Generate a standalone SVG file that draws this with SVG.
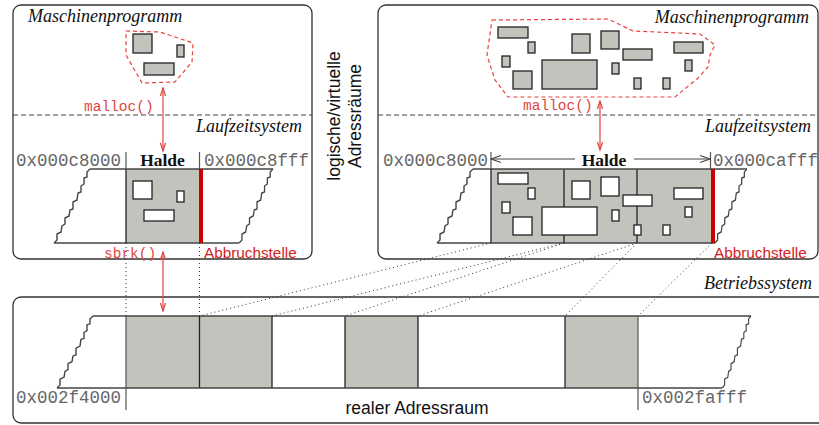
<svg xmlns="http://www.w3.org/2000/svg" xmlns:xlink="http://www.w3.org/1999/xlink" width="819" height="425" viewBox="0 0 819 425">
<style>
.box{fill:none;stroke:#333;stroke-width:1.3}
.sep{stroke:#444;stroke-width:1.2;stroke-dasharray:5 3}
.it{font-family:"Liberation Serif",serif;font-style:italic;font-size:18px;fill:#111}
.bold{font-family:"Liberation Serif",serif;font-weight:bold;font-size:17.5px;fill:#111}
.addr{font-family:"Liberation Mono",monospace;font-size:17.5px;fill:#666}
.code{font-family:"Liberation Mono",monospace;font-size:14.5px;fill:#e0453f}
.abb{font-family:"Liberation Sans",sans-serif;font-size:15.3px;fill:#d42020}
.sans{font-family:"Liberation Sans",sans-serif;font-size:17.5px;fill:#111}
.prog{fill:none;stroke:#e8403c;stroke-width:1.2;stroke-dasharray:4 3}
.blk{fill:#c0c4bc;stroke:#222;stroke-width:1.3}
.hole{fill:#fff;stroke:#222;stroke-width:1.3}
.gray{fill:#c0c4bc;stroke:none}
.div{stroke:#222;stroke-width:1.3}
.edge{fill:none;stroke:#444;stroke-width:1.4}
.tick{stroke:#555;stroke-width:1.2}
.dot{stroke:#333;stroke-width:1;stroke-dasharray:1 3;fill:none}
.red{stroke:#e0453f;stroke-width:1.2}
.bar{fill:#cc0000}
.harr{stroke:#444;stroke-width:1.2}
</style>
<defs>
<marker id="ra" viewBox="-10 -4 11 8" refX="0" refY="0" markerWidth="11" markerHeight="8" markerUnits="userSpaceOnUse" orient="auto-start-reverse">
<path d="M-8,-2.6 L0,0 L-8,2.6" fill="none" stroke="#e0453f" stroke-width="1.2"/>
</marker>
<marker id="ga" viewBox="-12 -5 13 10" refX="0" refY="0" markerWidth="13" markerHeight="10" markerUnits="userSpaceOnUse" orient="auto-start-reverse">
<path d="M-10,-3.5 L0,0 L-10,3.5" fill="none" stroke="#444" stroke-width="1.2"/>
</marker>
<path id="jag" class="edge" d="M0,0 L-3,3 L-3,8 L-6,9 L-6,15 L-9,17 L-9,23 L-12,24 L-13,31 L-17,33 L-17,40 L-20,41 L-21,47 L-25,49 L-25,55 L-28,57 L-29,63 L-33,65 L-33,71 L-36,74"/>
</defs>
<rect width="819" height="425" fill="#fff"/>

<g id="left-space">
<rect class="box" x="13" y="5" width="299" height="254" rx="8"/>
<line class="sep" x1="13" y1="115" x2="312" y2="115"/>
<text class="it" x="28" y="22">Maschinenprogramm</text>
<text class="it" x="302" y="132" text-anchor="end">Laufzeitsystem</text>
<polygon class="prog" points="126,31 160,32 193,43 192,62 175,82 142,83 126,55"/>
<rect class="blk" x="133" y="34" width="19" height="19"/>
<rect class="blk" x="177" y="45" width="7" height="12"/>
<rect class="blk" x="144" y="63" width="30" height="12"/>
<text class="addr" x="16" y="166">0x000c8000</text>
<text class="bold" x="162.5" y="166" text-anchor="middle">Halde</text>
<text class="addr" x="204" y="166">0x000c8fff</text>
<line class="tick" x1="126" y1="152" x2="126" y2="169"/>
<line class="tick" x1="199.5" y1="152" x2="199.5" y2="169"/>
<rect class="gray" x="126" y="169" width="74" height="74"/>
<line class="div" x1="126" y1="169" x2="126" y2="243"/>
<rect class="hole" x="133" y="181" width="19" height="18"/>
<rect class="hole" x="177" y="191" width="7" height="11"/>
<rect class="hole" x="144" y="210" width="30" height="11"/>
<line class="edge" x1="90" y1="169" x2="273" y2="169"/>
<line class="edge" x1="54" y1="243" x2="239" y2="243"/>
<use xlink:href="#jag" transform="translate(90,169)"/>
<use xlink:href="#jag" transform="translate(273,169) scale(0.94,1)"/>
<rect class="bar" x="199" y="169" width="4" height="74"/>
<text class="code" x="104" y="258">sbrk()</text>
<text class="abb" x="204" y="258">Abbruchstelle</text>
<text class="code" x="84" y="111">malloc()</text>
</g>

<g id="label-virtual">
<text class="sans" transform="translate(340,116) rotate(-90)" text-anchor="middle">logische/virtuelle</text>
<text class="sans" transform="translate(361,116) rotate(-90)" text-anchor="middle">Adressräume</text>
</g>

<g id="right-space">
<rect class="box" x="378" y="5" width="440" height="254" rx="8"/>
<line class="sep" x1="378" y1="115" x2="818" y2="115"/>
<text class="it" x="809" y="23" text-anchor="end">Maschinenprogramm</text>
<text class="it" x="811" y="132" text-anchor="end">Laufzeitsystem</text>
<polygon class="prog" points="492,20 608,19 633,31 700,34 715,45 710,55 708,67 698,78 675,97 508,97 495,80 487,55"/>
<rect class="blk" x="498" y="27" width="30" height="11"/>
<rect class="blk" x="528" y="42" width="7" height="11"/>
<rect class="blk" x="502" y="56" width="8" height="11"/>
<rect class="blk" x="513" y="71" width="19" height="18"/>
<rect class="blk" x="542" y="60" width="55" height="29"/>
<rect class="blk" x="572" y="34" width="18" height="19"/>
<rect class="blk" x="601" y="31" width="18" height="18"/>
<rect class="blk" x="623" y="49" width="29" height="11"/>
<rect class="blk" x="612" y="63" width="7" height="11"/>
<rect class="blk" x="634" y="78" width="7" height="11"/>
<rect class="blk" x="674" y="42" width="29" height="11"/>
<rect class="blk" x="685" y="60" width="7" height="11"/>
<rect class="blk" x="663" y="78" width="7" height="11"/>
<text class="code" x="523" y="110">malloc()</text>
<text class="addr" x="383" y="166">0x000c8000</text>
<text class="bold" x="604" y="166" text-anchor="middle">Halde</text>
<text class="addr" x="713" y="166">0x000cafff</text>
<line class="tick" x1="491" y1="152" x2="491" y2="169"/>
<line class="tick" x1="710.5" y1="152" x2="710.5" y2="169"/>
<rect class="gray" x="491" y="169" width="221" height="74"/>
<line class="div" x1="491" y1="169" x2="491" y2="243"/>
<line class="div" x1="564" y1="169" x2="564" y2="243"/>
<line class="div" x1="637" y1="169" x2="637" y2="243"/>
<rect class="hole" x="498" y="173" width="30" height="11"/>
<rect class="hole" x="528" y="188" width="7" height="11"/>
<rect class="hole" x="502" y="202" width="8" height="11"/>
<rect class="hole" x="513" y="217" width="19" height="18"/>
<rect class="hole" x="542" y="207" width="55" height="28"/>
<rect class="hole" x="572" y="181" width="18" height="18"/>
<rect class="hole" x="601" y="177" width="18" height="19"/>
<rect class="hole" x="623" y="195" width="29" height="11"/>
<rect class="hole" x="612" y="210" width="7" height="11"/>
<rect class="hole" x="634" y="225" width="7" height="10"/>
<rect class="hole" x="674" y="188" width="29" height="11"/>
<rect class="hole" x="685" y="207" width="7" height="10"/>
<rect class="hole" x="663" y="225" width="7" height="10"/>
<line class="edge" x1="473" y1="169" x2="747" y2="169"/>
<line class="edge" x1="437" y1="243" x2="715" y2="243"/>
<use xlink:href="#jag" transform="translate(473,169)"/>
<use xlink:href="#jag" transform="translate(747,169) scale(0.89,1)"/>
<rect class="bar" x="711" y="169" width="4" height="74"/>
<text class="abb" x="714" y="258">Abbruchstelle</text>
</g>

<g id="physical">
<rect class="box" x="13" y="297" width="830" height="126" rx="8"/>
<text class="it" x="812" y="289" text-anchor="end">Betriebssystem</text>
<rect class="gray" x="126" y="316" width="146" height="72"/>
<rect class="gray" x="345" y="316" width="73" height="72"/>
<rect class="gray" x="565" y="316" width="73" height="72"/>
<line class="div" x1="199.5" y1="316" x2="199.5" y2="388"/>
<line class="div" x1="272" y1="316" x2="272" y2="388"/>
<line class="div" x1="345" y1="316" x2="345" y2="388"/>
<line class="div" x1="418" y1="316" x2="418" y2="388"/>
<line class="div" x1="565" y1="316" x2="565" y2="388"/>
<line class="edge" x1="93" y1="316" x2="751" y2="316"/>
<line class="edge" x1="57" y1="388" x2="722" y2="388"/>
<use xlink:href="#jag" transform="translate(93,316) scale(1,0.973)"/>
<use xlink:href="#jag" transform="translate(751,316) scale(0.8,0.973)"/>
<line class="tick" x1="126" y1="316" x2="126" y2="410"/>
<line class="tick" x1="638" y1="316" x2="638" y2="410"/>
<text class="addr" x="16" y="403">0x002f4000</text>
<text class="addr" x="642" y="403">0x002fafff</text>
<text class="sans" x="417" y="414" text-anchor="middle">realer Adressraum</text>
</g>

<g id="connectors">
<line class="red" x1="163" y1="88" x2="163" y2="151" marker-start="url(#ra)" marker-end="url(#ra)"/>
<line class="red" x1="163" y1="252" x2="163" y2="311" marker-start="url(#ra)" marker-end="url(#ra)"/>
<line class="red" x1="600" y1="101" x2="600" y2="150" marker-start="url(#ra)" marker-end="url(#ra)"/>
<line class="harr" x1="491" y1="159" x2="575" y2="159" marker-start="url(#ga)"/>
<line class="harr" x1="634" y1="159" x2="710" y2="159" marker-end="url(#ga)"/>
<line class="dot" x1="126" y1="243" x2="126" y2="316"/>
<line class="dot" x1="199.5" y1="243" x2="199.5" y2="316"/>
<line class="dot" x1="491" y1="243" x2="199.5" y2="316"/>
<line class="dot" x1="564" y1="243" x2="272" y2="316"/>
<line class="dot" x1="564" y1="243" x2="345" y2="316"/>
<line class="dot" x1="637" y1="243" x2="418" y2="316"/>
<line class="dot" x1="637" y1="243" x2="565" y2="316"/>
<line class="dot" x1="712" y1="243" x2="638" y2="316"/>
</g>
</svg>
